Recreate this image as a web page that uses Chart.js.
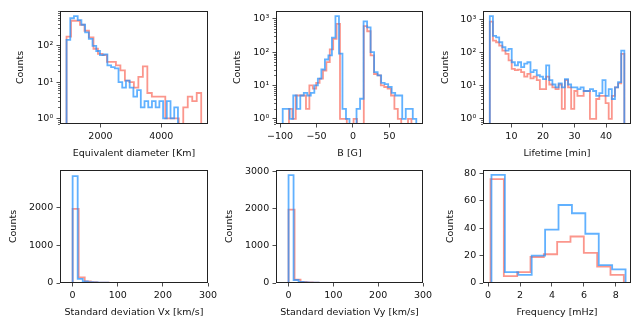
<!DOCTYPE html>
<html>
<head>
<meta charset="utf-8">
<title>Histograms</title>
<script src="https://cdn.jsdelivr.net/npm/chart.js@4.4.1/dist/chart.umd.min.js"></script>
<style>
  body { margin: 0; background: #fff; }
  #figure { position: relative; width: 642px; height: 327px; overflow: hidden; }
  #figure canvas { position: absolute; }
</style>
</head>
<body>
<div id="figure"></div>
<script>
// DATA - counts, bins evenly spaced across each range
const diamRangeBlue = [885, 4547];
const diamCountsBlue = [146, 575, 660, 510, 380, 235, 155, 100, 72, 55, 58, 29, 26, 24, 10, 7, 11, 7, 4, 6, 2, 3, 2, 3, 2, 3, 1, 3, 1, 2];
const diamRangeRed = [885, 5312];
const diamCountsRed = [180, 490, 490, 380, 260, 170, 83, 60, 55, 36, 36, 29, 21, 11, 10, 7, 14, 27, 5, 4, 4, 4, 1, 1, 1, 0, 2, 4, 3, 5];

const bRangeBlue = [-96.4, 86.9];
const bCountsBlue = [2, 2, 1, 5, 2, 5, 6, 5, 6, 10, 16, 30, 60, 80, 270, 1200, 90, 2, 1, 0, 0, 2, 4, 830, 550, 100, 25, 20, 12, 11, 9, 6, 5, 5, 1, 2, 2, 1];
const bRangeRed = [-87.8, 80.2];
const bCountsRed = [2, 1, 5, 5, 5, 2, 10, 8, 12, 16, 28, 50, 120, 250, 700, 1, 1, 0, 0, 1, 0, 0, 600, 420, 80, 22, 20, 10, 9, 8, 5, 2, 1, 0, 0, 1];

const lifeRangeBlue = [3.16, 45.79];
const lifeCountsBlue = [1300, 330, 295, 210, 148, 117, 132, 52, 42, 52, 37, 47, 52, 26, 30, 21, 19, 16, 42, 15, 11, 9, 12, 9, 16, 11, 9, 9, 8, 9, 7, 7, 8, 7, 5, 6, 15, 5, 8, 4, 9, 13, 117];
const lifeRangeRed = [3.16, 45.79];
const lifeCountsRed = [890, 237, 210, 166, 117, 93, 59, 33, 30, 31, 26, 19, 23, 17, 19, 15, 8, 8, 19, 11, 9, 8, 11, 2, 15, 9, 2, 7, 5, 5, 7, 7, 1, 1, 4, 5, 5, 3, 1, 5, 9, 12, 93];

const vxRangeBlue = [0, 302.4];
const vxCountsBlue = [2830, 110, 40, 22, 14, 9, 7, 5, 4, 3, 3, 2, 2, 2, 1, 1, 1, 1, 1, 1, 0, 1, 0, 1, 0, 0, 1];
const vxRangeRed = [0, 308.2];
const vxCountsRed = [1960, 150, 45, 20, 10, 7, 5, 4, 3, 2, 2, 2, 1, 1, 1, 1, 0, 1, 0, 1, 0, 0, 1];

const vyRangeBlue = [0, 302.4];
const vyCountsBlue = [2890, 80, 30, 15, 10, 8, 6, 5, 4, 3, 3, 2, 2, 2, 1, 1, 1, 1, 1, 1, 1, 0, 1, 0, 0, 1, 0];
const vyRangeRed = [0, 308.2];
const vyCountsRed = [1970, 90, 30, 15, 9, 6, 4, 3, 3, 2, 2, 1, 1, 1, 1, 1, 0, 1, 0, 1, 0, 0, 1];

const freqRangeBlue = [0.21, 8.61];
const freqCountsBlue = [79, 8, 6, 20, 39, 57, 51, 36, 13, 10];
const freqRangeRed = [0.15, 8.5];
const freqCountsRed = [76, 5, 8, 19, 21, 30, 34, 22, 12, 6];

// TICKS
const diamTicks = [2000, 4000];
const bTicks = [-100, -50, 0, 50];
const lifeTicks = [10, 20, 30, 40];
const vxTicks = [0, 100, 200, 300];
const vyTicks = [0, 100, 200, 300];
const freqTicks = [0, 2, 4, 6, 8];
const diamCountTicks = [1, 10, 100];
const bCountTicks = [1, 10, 100, 1000];
const lifeCountTicks = [1, 10, 100, 1000];
const vxCountTicks = [0, 1000, 2000];
const vyCountTicks = [0, 1000, 2000, 3000];
const freqCountTicks = [0, 20, 40, 60, 80];

const BLUE = 'rgba(30,144,255,0.7)';
const RED = 'rgba(250,110,95,0.72)';
const FONT = { family: 'DejaVu Sans', size: 9.5 };
const SUP = { '0': '\u2070', '1': '\u00b9', '2': '\u00b2', '3': '\u00b3' };

Chart.defaults.font.family = FONT.family;
Chart.defaults.font.size = FONT.size;
Chart.defaults.color = '#111';

// turn a histogram (range + counts) into step outline points
function histPoints(range, counts, floor) {
    const w = (range[1] - range[0]) / counts.length;
    const pts = [{ x: range[0], y: floor }];
    counts.forEach(function(c, i) {
        pts.push({ x: range[0] + i * w, y: c > 0 ? c : floor });
    });
    pts.push({ x: range[1], y: floor });
    return pts;
}

// axes frame + log minor ticks
const framePlugin = {
    id: 'frame',
    afterDatasetsDraw(chart) {
        const ctx = chart.ctx;
        const a = chart.chartArea;
        ctx.save();
        ctx.strokeStyle = '#222';
        ctx.lineWidth = 1;
        ctx.strokeRect(a.left + 0.5, a.top + 0.5, a.right - a.left - 1, a.bottom - a.top - 1);
        const y = chart.scales.y;
        if (y.type === 'logarithmic') {
            ctx.lineWidth = 0.7;
            ctx.beginPath();
            for (let e = Math.floor(Math.log10(y.min)); e <= Math.ceil(Math.log10(y.max)); e++) {
                for (let k = 2; k < 10; k++) {
                    const v = k * Math.pow(10, e);
                    if (v < y.min || v > y.max) continue;
                    const py = Math.round(y.getPixelForValue(v)) + 0.5;
                    ctx.moveTo(a.left - 2, py);
                    ctx.lineTo(a.left, py);
                }
            }
            ctx.stroke();
        }
        ctx.restore();
    }
};

function tickLabel(log) {
    return function(v) {
        if (log) {
            const e = Math.round(Math.log10(v));
            return '10' + String(e).split('').map(function(d) { return SUP[d]; }).join('');
        }
        return String(v).replace('-', '\u2212');
    };
}

// PANEL
function panel(p) {
    const padTop = 8, padRight = 14;
    const left = Math.round(p.titleX - 5.7);
    const top = p.box[1] - padTop;
    const bottom = Math.round(p.titleY + 5.7);
    const width = p.box[2] + padRight - left;
    const height = bottom - top;

    const canvas = document.createElement('canvas');
    canvas.width = width;
    canvas.height = height;
    canvas.style.left = left + 'px';
    canvas.style.top = top + 'px';
    canvas.style.width = width + 'px';
    canvas.style.height = height + 'px';
    document.getElementById('figure').appendChild(canvas);

    const log = p.log;
    const floor = log ? 0.1 : 0;
    const axisGrid = { display: true, drawOnChartArea: false, drawTicks: true, tickLength: 3.5, tickWidth: 0.8, tickColor: '#222' };

    new Chart(canvas.getContext('2d'), {
        type: 'line',
        data: {
            datasets: [
                { data: histPoints(p.blue[0], p.blue[1], floor), borderColor: BLUE, borderWidth: 1.8, stepped: true, pointRadius: 0, fill: false },
                { data: histPoints(p.red[0], p.red[1], floor), borderColor: RED, borderWidth: 1.8, stepped: true, pointRadius: 0, fill: false }
            ]
        },
        options: {
            responsive: false,
            animation: false,
            devicePixelRatio: 1,
            layout: { padding: { top: padTop, right: padRight, left: 0, bottom: 0 } },
            plugins: { legend: { display: false }, tooltip: { enabled: false } },
            scales: {
                x: {
                    type: 'linear',
                    min: p.xlim[0],
                    max: p.xlim[1],
                    grid: axisGrid,
                    border: { display: false },
                    afterBuildTicks: function(s) { s.ticks = p.xticks.map(function(v) { return { value: v }; }); },
                    afterFit: function(s) { s.height = bottom - p.box[3]; },
                    ticks: { autoSkip: false, maxRotation: 0, padding: 3.3, font: FONT, color: '#111', callback: tickLabel(false) },
                    title: { display: true, text: p.xlabel, padding: 0, font: FONT, color: '#111' }
                },
                y: {
                    type: log ? 'logarithmic' : 'linear',
                    min: p.ylim[0],
                    max: p.ylim[1],
                    grid: axisGrid,
                    border: { display: false },
                    afterBuildTicks: function(s) { s.ticks = p.yticks.map(function(v) { return { value: v }; }); },
                    afterFit: function(s) { s.width = p.box[0] - left; },
                    ticks: { autoSkip: false, padding: 3.3, font: FONT, color: '#111', callback: tickLabel(log) },
                    title: { display: true, text: 'Counts', padding: 0, font: FONT, color: '#111' }
                }
            }
        },
        plugins: [framePlugin]
    });
}

panel({ box: [60, 10, 208, 124], titleX: 21, titleY: 153, log: true,
    xlim: [670, 5535], ylim: [0.72, 910], xticks: diamTicks, yticks: diamCountTicks,
    xlabel: 'Equivalent diameter [Km]', blue: [diamRangeBlue, diamCountsBlue], red: [diamRangeRed, diamCountsRed] });

panel({ box: [276, 10, 423, 124], titleX: 237.5, titleY: 153, log: true,
    xlim: [-105.6, 96.1], ylim: [0.70, 1700], xticks: bTicks, yticks: bCountTicks,
    xlabel: 'B [G]', blue: [bRangeBlue, bCountsBlue], red: [bRangeRed, bCountsRed] });

panel({ box: [483, 10, 631, 124], titleX: 446, titleY: 153, log: true,
    xlim: [1.0, 47.9], ylim: [0.71, 1860], xticks: lifeTicks, yticks: lifeCountTicks,
    xlabel: 'Lifetime [min]', blue: [lifeRangeBlue, lifeCountsBlue], red: [lifeRangeRed, lifeCountsRed] });

panel({ box: [60, 169, 208, 283], titleX: 14, titleY: 312, log: false,
    xlim: [-28, 300], ylim: [0, 2990], xticks: vxTicks, yticks: vxCountTicks,
    xlabel: 'Standard deviation Vx [km/s]', blue: [vxRangeBlue, vxCountsBlue], red: [vxRangeRed, vxCountsRed] });

panel({ box: [276, 169, 423, 283], titleX: 230, titleY: 312, log: false,
    xlim: [-28, 300], ylim: [0, 3030], xticks: vyTicks, yticks: vyCountTicks,
    xlabel: 'Standard deviation Vy [km/s]', blue: [vyRangeBlue, vyCountsBlue], red: [vyRangeRed, vyCountsRed] });

panel({ box: [483, 169, 631, 283], titleX: 451, titleY: 312, log: false,
    xlim: [-0.32, 8.95], ylim: [0, 82.6], xticks: freqTicks, yticks: freqCountTicks,
    xlabel: 'Frequency [mHz]', blue: [freqRangeBlue, freqCountsBlue], red: [freqRangeRed, freqCountsRed] });
</script>
</body>
</html>
